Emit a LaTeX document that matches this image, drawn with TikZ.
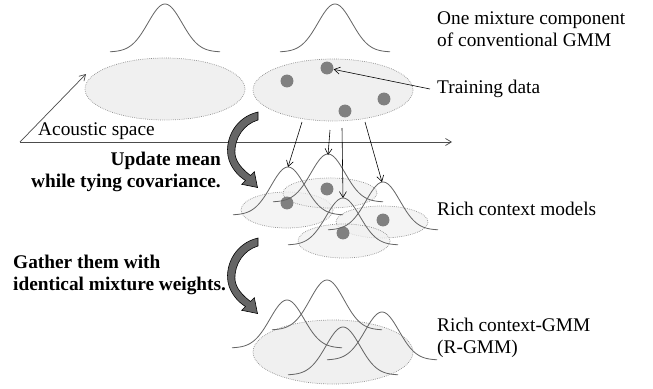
\documentclass[tikz,border=0pt]{standalone}
\usepackage{fontspec}
\setmainfont{Liberation Serif}
\usetikzlibrary{arrows.meta}

\tikzset{
  curve/.style={draw=black!60, line width=0.7pt},
  region/.style={fill=black!6, draw=black!45, densely dotted, line width=0.6pt},
  datum/.style={circle, fill=black!50, inner sep=0pt, minimum size=11pt},
  link/.style={draw=black, line width=0.5pt, -{Straight Barb[length=5pt,width=6pt]}},
  axis/.style={draw=black!70, line width=0.6pt, -{Straight Barb[length=5pt,width=6pt]}},
  bigarrow/.style={fill=black!60, draw=black, line width=0.5pt},
  note/.style={font=\fontsize{16.5}{19}\selectfont, align=left, inner sep=0pt},
  strong/.style={note, font=\fontsize{16.5}{19}\selectfont\bfseries},
}

% mean x, base y, height
\newcommand{\gaussbump}[3]{%
  \draw[curve] plot[domain=-55:55, samples=71, smooth] ({#1+\x}, {#2-#3*exp(-((\x/17)*(\x/17))/2)});
}
% shaded bent arrow, shifted down by #1
\newcommand{\bentarrow}[1]{%
  \draw[bigarrow, shift={(0,#1)}] (258,112) .. controls (236,117) and (225,138) .. (228,156)
    .. controls (230,167) and (238,176) .. (245.5,180.5) -- (241.7,184.3) -- (257.5,187.5)
    -- (254.3,171.7) -- (250.5,175.5) .. controls (242,169) and (236,162) .. (235,154)
    .. controls (234,138) and (244,124) .. (258,120) -- cycle;
}

\begin{document}
\begin{tikzpicture}[x=0.03cm, y=-0.03cm]
  \useasboundingbox (0,0) rectangle (653,388);

  % conventional GMM
  \gaussbump{165}{52}{48}
  \gaussbump{335}{52}{48}
  \draw[region] (165,89) ellipse [x radius=80, y radius=31];
  \draw[region] (333,90) ellipse [x radius=80, y radius=31];
  \node[datum] (d1) at (287,81) {};
  \node[datum] (d2) at (327,68) {};
  \node[datum] (d3) at (345,111) {};
  \node[datum] (d4) at (384,99) {};

  % acoustic space
  \coordinate (o) at (20,142);
  \coordinate (xend) at (452,142);
  \coordinate (yend) at (86,74);
  \draw[axis] (o) -- (xend);
  \draw[axis] (o) -- (yend);
  \node[note, anchor=west] (acoustic) at (38,131) {Acoustic space};

  \node[note, anchor=west] (conv) at (437,29) {One mixture component\\of conventional GMM};
  \node[note, anchor=west] (train) at (437,89) {Training data};
  \draw[link] ([xshift=-6pt]train.west) -- (d2);

  \bentarrow{0}
  \bentarrow{126}
  \node[strong, anchor=east, align=right] (update) at (221,172) {Update mean\\while tying covariance.};
  \node[strong, anchor=west] (gather) at (13,275) {Gather them with\\identical mixture weights.};

  % rich context models
  \begin{scope}[fill opacity=0.7]
    \draw[region] (287,210) ellipse [x radius=46, y radius=18];
    \draw[region] (330,193) ellipse [x radius=47, y radius=15];
    \draw[region] (382,222) ellipse [x radius=46, y radius=16];
    \draw[region] (344,241) ellipse [x radius=46, y radius=17];
  \end{scope}
  \node[datum] (m1) at (287,203) {};
  \node[datum] (m2) at (327,189) {};
  \node[datum] (m3) at (343,233) {};
  \node[datum] (m4) at (383,220) {};
  \gaussbump{288}{215}{48}
  \gaussbump{328}{202}{48}
  \gaussbump{343}{245}{47}
  \gaussbump{383}{230}{48}

  \coordinate (s1) at (302,122);
  \coordinate (s2) at (330,130);
  \coordinate (s3) at (342,128);
  \coordinate (s4) at (365,122);
  \coordinate (p1) at (288,167);
  \coordinate (p2) at (328,155);
  \coordinate (p3) at (343,198);
  \coordinate (p4) at (382,182);
  \draw[link] (s1) -- (p1);
  \draw[link] (s2) -- (p2);
  \draw[link] (s3) -- (p3);
  \draw[link] (s4) -- (p4);
  \node[note, anchor=west] (rich) at (437,209) {Rich context models};

  % R-GMM
  \draw[region] (333,352) ellipse [x radius=80, y radius=32];
  \gaussbump{287}{348}{48}
  \gaussbump{327}{330}{50}
  \gaussbump{343}{375}{48}
  \gaussbump{382}{360}{48}
  \node[note, anchor=west] (rgmm) at (437,338) {Rich context-GMM\\(R-GMM)};
\end{tikzpicture}
\end{document}
